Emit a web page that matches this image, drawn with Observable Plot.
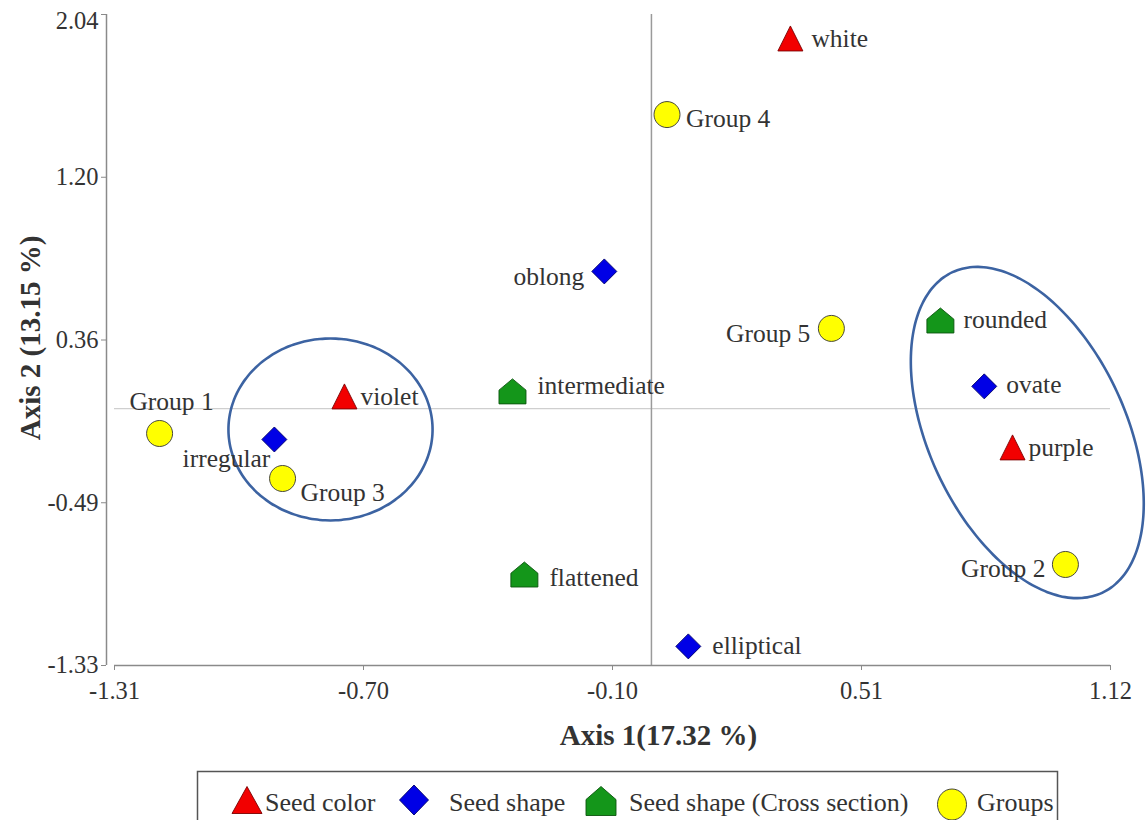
<!DOCTYPE html>
<html><head><meta charset="utf-8">
<script src="https://cdn.jsdelivr.net/npm/d3@7"></script>
<script src="https://cdn.jsdelivr.net/npm/@observablehq/plot@0.6"></script>
<style>
html,body{margin:0;padding:0;background:#fff;}
#wrap{position:relative;width:1148px;height:820px;overflow:hidden;font-family:"Liberation Serif","Times New Roman",serif;}
#wrap svg{display:block;}
#legend{position:absolute;left:0;top:760px;}
</style></head><body><div id="wrap"><div id="chart"></div><div id="legend"></div></div>
<script>
// ---------------- data ----------------
const categories = ["Seed color", "Seed shape", "Seed shape (Cross section)", "Groups"];
const names = ["white", "purple", "violet",
               "oblong", "ovate", "irregular", "elliptical",
               "rounded", "intermediate", "flattened",
               "Group 1", "Group 2", "Group 3", "Group 4", "Group 5"];
const category = ["Seed color", "Seed color", "Seed color",
                  "Seed shape", "Seed shape", "Seed shape", "Seed shape",
                  "Seed shape (Cross section)", "Seed shape (Cross section)", "Seed shape (Cross section)",
                  "Groups", "Groups", "Groups", "Groups", "Groups"];
const axis1 = [0.339, 0.881, -0.749, -0.115, 0.812, -0.920, 0.090, 0.705, -0.339, -0.310, -1.200, 1.010, -0.900, 0.038, 0.439];
const axis2 = [1.916, -0.201, 0.063, 0.710, 0.115, -0.160, -1.231, 0.456, 0.089, -0.859, -0.129, -0.807, -0.362, 1.522, 0.415];

const xTickValues = [-1.31, -0.7025, -0.095, 0.5125, 1.12];
const xTickLabels = ["-1.31", "-0.70", "-0.10", "0.51", "1.12"];
const yTickValues = [2.04, 1.1975, 0.355, -0.4875, -1.33];
const yTickLabels = ["2.04", "1.20", "0.36", "-0.49", "-1.33"];
const xTitle = "Axis 1(17.32 %)";
const yTitle = "Axis 2 (13.15 %)";

// cluster ellipses (centre + two conjugate semi-axes, data units)
const clusterCx = [-0.783, 0.917];
const clusterCy = [-0.108, -0.124];
const clusterU = [[0.249, 0], [-0.1825, 0.830]];
const clusterV = [[0, 0.471], [0.2178, 0.2153]];

// ---------------- styling / layout config ----------------
const colors = {"Seed color": "#f20000", "Seed shape": "#0000e6", "Seed shape (Cross section)": "#14961a", "Groups": "#ffff00"};
const strokes = {"Seed color": "#7a0000", "Seed shape": "#00006a", "Seed shape (Cross section)": "#0b550e", "Groups": "#333333"};
const labelPlace = {
  "white": ["start", 21, 0], "Group 4": ["start", 19, 4], "oblong": ["end", -20, 5],
  "Group 5": ["end", -21, 5], "rounded": ["start", 23, -1], "ovate": ["start", 22, -2],
  "purple": ["start", 16, 0], "Group 2": ["end", -20, 4], "intermediate": ["start", 25, -6],
  "flattened": ["start", 25, 3], "elliptical": ["start", 24, -1], "violet": ["start", 16, 0],
  "irregular": ["end", -4, 19], "Group 1": ["middle", 12, -32], "Group 3": ["start", 18, 14]
};

function drawShape(kind, ctx, w, h) {
  if (kind === "Seed color") {
    ctx.moveTo(0, -h / 2); ctx.lineTo(w / 2, h / 2); ctx.lineTo(-w / 2, h / 2); ctx.closePath();
  } else if (kind === "Seed shape") {
    ctx.moveTo(0, -h / 2); ctx.lineTo(w / 2, 0); ctx.lineTo(0, h / 2); ctx.lineTo(-w / 2, 0); ctx.closePath();
  } else if (kind === "Seed shape (Cross section)") {
    const e = -h / 2 + 0.45 * h;
    ctx.moveTo(0, -h / 2); ctx.lineTo(w / 2, e); ctx.lineTo(w / 2, h / 2); ctx.lineTo(-w / 2, h / 2); ctx.lineTo(-w / 2, e); ctx.closePath();
  } else {
    const rx = w / 2, ry = h / 2, k = 0.5523;
    ctx.moveTo(rx, 0);
    ctx.bezierCurveTo(rx, ry * k, rx * k, ry, 0, ry);
    ctx.bezierCurveTo(-rx * k, ry, -rx, ry * k, -rx, 0);
    ctx.bezierCurveTo(-rx, -ry * k, -rx * k, -ry, 0, -ry);
    ctx.bezierCurveTo(rx * k, -ry, rx, -ry * k, rx, 0);
    ctx.closePath();
  }
}
const plotSize = {"Seed color": [25, 25], "Seed shape": [25, 25], "Seed shape (Cross section)": [27, 25], "Groups": [26, 26]};
const symbolOf = c => ({draw(ctx) { drawShape(c, ctx, plotSize[c][0], plotSize[c][1]); }});

// ellipse outline points built from the parameters above
const ellipsePts = [];
clusterCx.forEach((cx, k) => {
  for (let a = 0; a < 360; a += 3) {
    const t = a * Math.PI / 180;
    ellipsePts.push({id: k,
      x: cx + clusterU[k][0] * Math.cos(t) + clusterV[k][0] * Math.sin(t),
      y: clusterCy[k] + clusterU[k][1] * Math.cos(t) + clusterV[k][1] * Math.sin(t)});
  }
});

const idx = names.map((_, i) => i);
const font = "Liberation Serif";
const yLab = d => yTickLabels[yTickValues.indexOf(d)];

const marks = [
  Plot.ruleY([0], {stroke: "#cfcfcf", strokeWidth: 1.2}),
  Plot.ruleX([0], {stroke: "#9a9a9a", strokeWidth: 1.5}),
  // axis lines
  Plot.ruleX([xTickValues[0]], {dx: -8, stroke: "#8a8a8a", strokeWidth: 1.5}),
  Plot.ruleY([yTickValues[4]], {stroke: "#8a8a8a", strokeWidth: 1.5}),
  Plot.axisX(xTickValues, {tickFormat: d => xTickLabels[xTickValues.indexOf(d)], tickSize: 5, tickPadding: 11,
    fontSize: 24.5, stroke: "#8a8a8a", fill: "#333", label: null}),
  Plot.axisY(yTickValues, {tickFormat: yLab, tickSize: 5, dx: -8, stroke: "#8a8a8a", fill: "none", label: null}),
  Plot.text(yTickValues.slice(1), {x: xTickValues[0], y: d => d, text: yLab, dx: -16, textAnchor: "end",
    lineAnchor: "middle", fontSize: 24.5, fill: "#333"}),
  Plot.text(yTickValues.slice(0, 1), {x: xTickValues[0], y: d => d, text: yLab, dx: -16, dy: 7, textAnchor: "end",
    lineAnchor: "middle", fontSize: 24.5, fill: "#333"}),
  Plot.text([xTitle], {frameAnchor: "bottom", dx: 46, dy: 70, fontSize: 29, fontWeight: "bold", fill: "#333",
    textAnchor: "middle", lineAnchor: "middle"}),
  Plot.text([yTitle], {frameAnchor: "left", dx: -84, dy: -2, rotate: -90, fontSize: 29, fontWeight: "bold", fill: "#333",
    textAnchor: "middle", lineAnchor: "middle"}),
  Plot.line(ellipsePts, {x: "x", y: "y", z: "id", curve: "catmull-rom-closed", stroke: "#3c63a2", strokeWidth: 2.6})
];
categories.forEach(c => {
  marks.push(Plot.dot(idx.filter(i => category[i] === c), {
    x: i => axis1[i], y: i => axis2[i], symbol: symbolOf(c), r: 12,
    fill: colors[c], stroke: strokes[c], strokeWidth: 0.9
  }));
});
idx.forEach(i => {
  const [anchor, dx, dy] = labelPlace[names[i]];
  marks.push(Plot.text([i], {x: j => axis1[j], y: j => axis2[j], text: j => names[j],
    textAnchor: anchor, dx, dy, fontSize: 25.5, fill: "#333", lineAnchor: "middle"}));
});

const chart = Plot.plot({
  width: 1148, height: 760,
  marginLeft: 114, marginRight: 38, marginTop: 14, marginBottom: 95,
  x: {domain: [-1.31, 1.12]},
  y: {domain: [-1.33, 2.04]},
  style: {fontFamily: font, fontSize: "24px", color: "#333", background: "white", overflow: "visible"},
  marks
});
document.getElementById("chart").appendChild(chart);

// ---------------- legend (below the plot) ----------------
const legendItems = [
  {c: "Seed color", sx: 247, sy: 40, w: 30, h: 27, tx: 265},
  {c: "Seed shape", sx: 414, sy: 40, w: 29, h: 30, tx: 449},
  {c: "Seed shape (Cross section)", sx: 601, sy: 41, w: 30, h: 29, tx: 629},
  {c: "Groups", sx: 952, sy: 44.5, w: 29, h: 31, tx: 977}
];
const lg = d3.select("#legend").append("svg").attr("width", 1148).attr("height", 60)
  .style("font-family", font);
lg.append("rect").attr("x", 197.5).attr("y", 11.5).attr("width", 860).attr("height", 90)
  .attr("fill", "none").attr("stroke", "#555").attr("stroke-width", 1.5);
legendItems.forEach(it => {
  const p = d3.path(); drawShape(it.c, p, it.w, it.h);
  lg.append("path").attr("d", p.toString()).attr("transform", `translate(${it.sx},${it.sy})`)
    .attr("fill", colors[it.c]).attr("stroke", strokes[it.c]).attr("stroke-width", 0.9);
  lg.append("text").attr("x", it.tx).attr("y", 51).attr("font-size", 26).attr("fill", "#333").text(it.c);
});
</script></body></html>
